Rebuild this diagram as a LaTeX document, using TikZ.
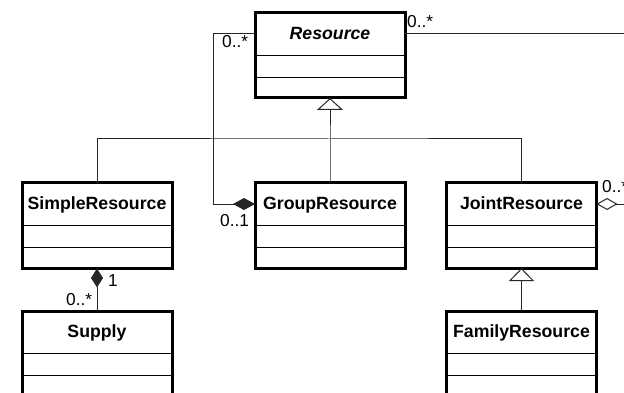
\documentclass[tikz,border=0pt]{standalone}
\usepackage{fontspec}
\setmainfont{Liberation Sans}
\usetikzlibrary{arrows.meta}
\newcommand\umlcls[5]{% name, x centre, y top, title, ops height
  \node[ttl] (#1) at (#2,#3+21) {#4};
  \node[cmp, minimum height=22pt, anchor=north] (#1-a) at (#1.south) {};
  \node[cmp, minimum height=#5, anchor=north] (#1-o) at (#1-a.south) {};
  \draw[frame] (#1.north west) rectangle (#1-o.south east);
}
\begin{document}
\begin{tikzpicture}[x=1pt,y=-1pt,
  ttl/.style={draw=black, line width=0.9pt, minimum width=150pt, minimum height=42pt,
    inner sep=0pt, outer sep=0pt, text height=12.5pt, text depth=1.5pt,
    font=\fontsize{17.7}{21}\selectfont\bfseries},
  cmp/.style={draw=black, line width=0.9pt, minimum width=150pt, inner sep=0pt, outer sep=0pt},
  frame/.style={draw=black, line width=3pt},
  assoc/.style={draw=black!85, line width=1pt},
  mult/.style={inner sep=0pt, anchor=base west, font=\fontsize{17.3}{20}\selectfont}]
\useasboundingbox (0,0) rectangle (624,393);
\clip (0,0) rectangle (624,393);
\fill[white] (0,0) rectangle (624,393);

\umlcls{res}{330}{13}{\itshape Resource}{21pt}
\umlcls{simple}{97}{183}{SimpleResource}{21.5pt}
\umlcls{group}{330}{183}{GroupResource}{21.5pt}
\umlcls{joint}{521.5}{183}{JointResource}{21pt}
\umlcls{supply}{97}{311}{Supply}{40pt}
\umlcls{family}{521.5}{311}{FamilyResource}{40pt}

% generalisation
\coordinate (hub) at (330,139);
\draw[assoc, -{Triangle[open,length=12pt,width=26pt]}] (group.north) -- (hub) -- (res-o.south);
\draw[assoc] (simple.north) |- (hub) -| (joint.north);
\draw[assoc, -{Triangle[open,length=13pt,width=25pt]}] (family.north) -- (joint-o.south);

% compositions / aggregations
\coordinate (lc) at (213,34);
\draw[assoc, {Diamond[length=22pt,width=12pt]}-] (group.west) -| (lc) -- (res.west);
\coordinate (re) at (640,34);
\draw[assoc] (res.east) -- (re);
\coordinate (je) at (640,204);
\draw[assoc, {Diamond[open,length=21pt,width=12pt]}-] (joint.east) -- (je);
\draw[assoc, {Diamond[length=19pt,width=12pt]}-] (simple-o.south) -- (supply.north);

% multiplicities
\node[mult] (m1) at (407,28) {0..*};
\node[mult] (m2) at (222,48) {0..*};
\node[mult] (m3) at (220,226) {0..1};
\node[mult] (m4) at (108,286) {1};
\node[mult] (m5) at (66,305) {0..*};
\node[mult] (m6) at (602,193) {0..*};
\end{tikzpicture}
\end{document}
